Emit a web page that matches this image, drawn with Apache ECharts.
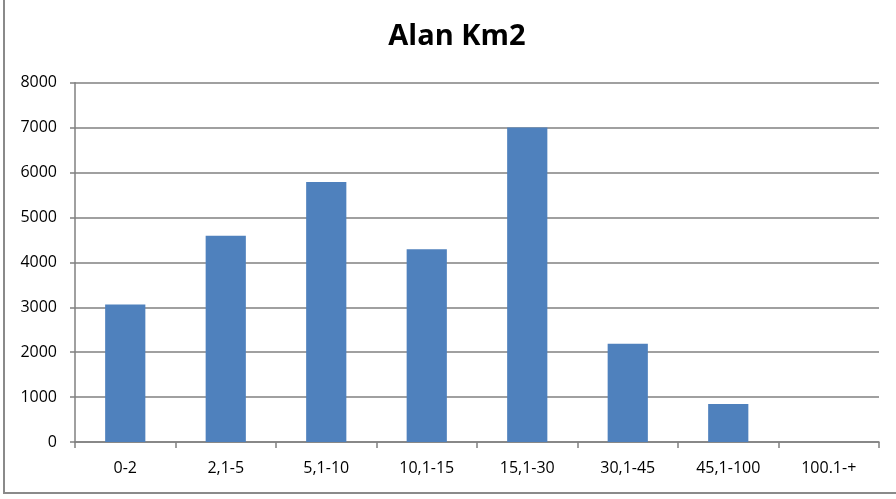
<!DOCTYPE html>
<html lang="tr">
<head>
    <meta charset="UTF-8">
    <title>Alan Km2</title>
    <script src="https://cdn.jsdelivr.net/npm/echarts@6/dist/echarts.min.js"></script>
    <style>
        body, html {
            margin: 0;
            padding: 0;
            width: 100%;
            height: 100%;
            background: #fff;
        }
        #chart {
            width: 896px;
            height: 499px;
        }
    </style>
</head>
<body>
<div id="chart"></div>
<script>
    // chart data
    let title = "Alan Km2";
    let categories = ["0-2", "2,1-5", "5,1-10", "10,1-15", "15,1-30", "30,1-45", "45,1-100", "100.1-+"];
    let values = [3060, 4590, 5790, 4290, 7000, 2190, 845, 0];
    let yTicks = [0, 1000, 2000, 3000, 4000, 5000, 6000, 7000, 8000];

    let labelFont = "'Open Sans', sans-serif";
    let lineGray = "#808080";

    let chart = echarts.init(document.getElementById("chart"));

    let options = {
        animation: false,
        title: {
            text: title,
            left: 452,
            top: 17,
            textAlign: "center",
            textStyle: {
                fontFamily: labelFont,
                fontWeight: "bold",
                fontSize: 29,
                color: "#000"
            }
        },
        grid: {
            left: 75,
            right: 17,
            top: 82.7,
            bottom: 57,
            containLabel: false
        },
        xAxis: {
            type: "category",
            data: categories,
            boundaryGap: true,
            axisLine: {lineStyle: {color: lineGray, width: 1.5}},
            axisTick: {show: true, length: 6, lineStyle: {color: lineGray, width: 1.5}},
            axisLabel: {
                margin: 18,
                fontFamily: labelFont,
                fontSize: 16,
                color: "#000",
                interval: 0
            }
        },
        yAxis: {
            type: "value",
            min: yTicks[0],
            max: yTicks[yTicks.length - 1],
            interval: 1000,
            axisLine: {show: true, lineStyle: {color: lineGray, width: 1.5}},
            axisTick: {show: true, length: 5, lineStyle: {color: lineGray, width: 1.5}},
            splitLine: {show: true, lineStyle: {color: lineGray, width: 1.5}},
            axisLabel: {
                margin: 18,
                fontFamily: labelFont,
                fontSize: 16,
                color: "#000",
                formatter: function (v) {
                    return String(v);
                }
            }
        },
        series: [{
            type: "bar",
            data: values,
            barWidth: "40%",
            itemStyle: {color: "#4F81BD"}
        }],
        graphic: [
            // outer frame (left and bottom edge only)
            {type: "line", shape: {x1: 4, y1: 0, x2: 4, y2: 493}, style: {stroke: "#8a8a8a", lineWidth: 2}},
            {type: "line", shape: {x1: 3, y1: 493, x2: 896, y2: 493}, style: {stroke: "#8a8a8a", lineWidth: 2}}
        ]
    };

    chart.setOption(options);
</script>
</body>
</html>
